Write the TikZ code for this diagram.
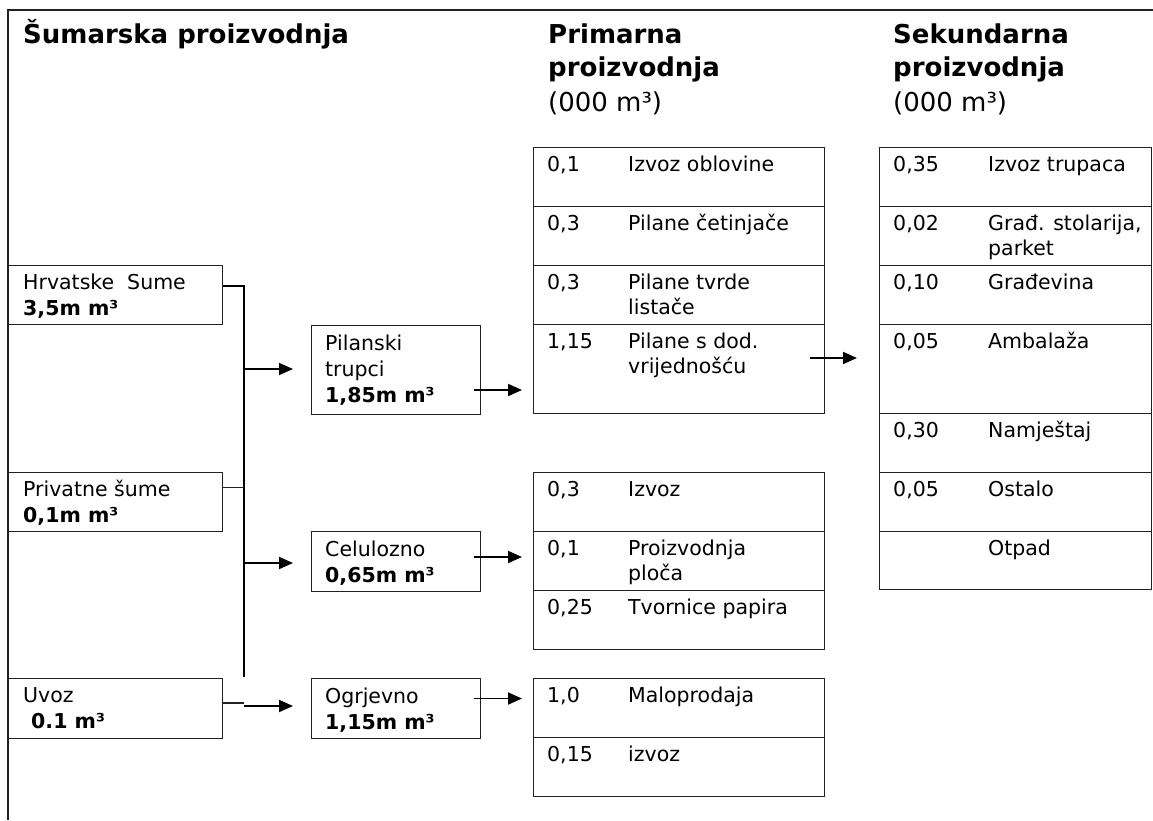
\documentclass[tikz,border=0pt]{standalone}
\usepackage{fontspec}
\setmainfont{DejaVu Sans}
\usetikzlibrary{arrows.meta}
\definecolor{linec}{HTML}{222222}
\newcommand{\rowtxt}[5]{% name, label shift, number, line1, line2
  \node[txt] (#1n) at ([xshift=14pt,yshift=-24pt]#1.north west) {#3};
  \node[txt] (#1t) at ([xshift=#2,yshift=-24pt]#1.north west) {#4};
  \node[txt] (#1u) at ([xshift=#2,yshift=-49pt]#1.north west) {#5};}
\begin{document}
\begin{tikzpicture}[x=1pt,y=-1pt,
  box/.style={draw=linec, line width=1.3pt, inner sep=0pt, anchor=north west},
  txt/.style={inner sep=0pt, anchor=base west, font=\fontsize{20.5}{25}\selectfont},
  txtb/.style={inner sep=0pt, anchor=base west, font=\fontsize{20.5}{25}\selectfont\bfseries},
  head/.style={inner sep=0pt, anchor=base west, font=\fontsize{26}{32}\selectfont\bfseries},
  headr/.style={inner sep=0pt, anchor=base west, font=\fontsize{26}{32}\selectfont},
  conn/.style={draw=black, line width=1.8pt},
  thinconn/.style={draw=linec, line width=1.2pt},
  arr/.style={conn, -{Triangle[length=14pt,width=12pt]}},
  frameline/.style={draw=linec, line width=1.3pt}
]
\useasboundingbox (0,0) rectangle (1153,820);

% outer frame
\coordinate (fbl) at (8,820);
\coordinate (ftl) at (8,10);
\coordinate (ftr) at (1153,10);
\draw[frameline] (fbl) -- (ftl) -- (ftr);

% headers
\node[head] (h1) at (23,43) {Šumarska proizvodnja};
\node[head] (h2a) at (548,43) {Primarna};
\node[head] (h2b) at (548,76) {proizvodnja};
\node[headr] (h2c) at (548,111) {(000 m³)};
\node[head] (h3a) at (893,43) {Sekundarna};
\node[head] (h3b) at (893,76) {proizvodnja};
\node[headr] (h3c) at (893,111) {(000 m³)};

% left boxes
\node[box, minimum width=214pt, minimum height=59pt] (hs) at (8,265) {};
\node[txt] (hst) at ([xshift=15pt,yshift=-24pt]hs.north west) {Hrvatske\ \ Sume};
\node[txtb] (hsv) at ([xshift=15pt,yshift=-50pt]hs.north west) {3,5m m³};

\node[box, minimum width=214pt, minimum height=59pt] (ps) at (8,472) {};
\node[txt] (pst) at ([xshift=15pt,yshift=-24pt]ps.north west) {Privatne šume};
\node[txtb] (psv) at ([xshift=15pt,yshift=-50pt]ps.north west) {0,1m m³};

\node[box, minimum width=214pt, minimum height=60pt] (uv) at (8,678) {};
\node[txt] (uvt) at ([xshift=15pt,yshift=-24pt]uv.north west) {Uvoz};
\node[txtb] (uvv) at ([xshift=23pt,yshift=-50pt]uv.north west) {0.1 m³};

% middle boxes
\node[box, minimum width=169pt, minimum height=89pt] (pt) at (311,325) {};
\node[txt] (ptt) at ([xshift=14pt,yshift=-25pt]pt.north west) {Pilanski};
\node[txt] (ptu) at ([xshift=14pt,yshift=-51pt]pt.north west) {trupci};
\node[txtb] (ptv) at ([xshift=14pt,yshift=-77pt]pt.north west) {1,85m m³};

\node[box, minimum width=169pt, minimum height=60pt] (cz) at (311,531) {};
\node[txt] (czt) at ([xshift=14pt,yshift=-25pt]cz.north west) {Celulozno};
\node[txtb] (czv) at ([xshift=14pt,yshift=-51pt]cz.north west) {0,65m m³};

\node[box, minimum width=169pt, minimum height=60pt] (og) at (311,678) {};
\node[txt] (ogt) at ([xshift=14pt,yshift=-25pt]og.north west) {Ogrjevno};
\node[txtb] (ogv) at ([xshift=14pt,yshift=-51pt]og.north west) {1,15m m³};

% primary table
\node[box, minimum width=291pt, minimum height=59pt] (p1) at (533,147) {};
\node[box, minimum width=291pt, minimum height=59pt] (p2) at (533,206) {};
\node[box, minimum width=291pt, minimum height=59pt] (p3) at (533,265) {};
\node[box, minimum width=291pt, minimum height=89pt] (p4) at (533,324) {};
\rowtxt{p1}{95pt}{0,1}{Izvoz oblovine}{}
\rowtxt{p2}{95pt}{0,3}{Pilane četinjače}{}
\rowtxt{p3}{95pt}{0,3}{Pilane tvrde}{listače}
\rowtxt{p4}{95pt}{1,15}{Pilane s dod.}{vrijednošću}

\node[box, minimum width=291pt, minimum height=59pt] (q1) at (533,472) {};
\node[box, minimum width=291pt, minimum height=59pt] (q2) at (533,531) {};
\node[box, minimum width=291pt, minimum height=59pt] (q3) at (533,590) {};
\rowtxt{q1}{95pt}{0,3}{Izvoz}{}
\rowtxt{q2}{95pt}{0,1}{Proizvodnja}{ploča}
\rowtxt{q3}{95pt}{0,25}{Tvornice papira}{}

\node[box, minimum width=291pt, minimum height=59pt] (r1) at (533,678) {};
\node[box, minimum width=291pt, minimum height=59pt] (r2) at (533,737) {};
\rowtxt{r1}{95pt}{1,0}{Maloprodaja}{}
\rowtxt{r2}{95pt}{0,15}{izvoz}{}

% secondary table
\node[box, minimum width=272pt, minimum height=59pt] (s1) at (879,147) {};
\node[box, minimum width=272pt, minimum height=59pt] (s2) at (879,206) {};
\node[box, minimum width=272pt, minimum height=59pt] (s3) at (879,265) {};
\node[box, minimum width=272pt, minimum height=89pt] (s4) at (879,324) {};
\node[box, minimum width=272pt, minimum height=59pt] (s5) at (879,413) {};
\node[box, minimum width=272pt, minimum height=59pt] (s6) at (879,472) {};
\node[box, minimum width=272pt, minimum height=58pt] (s7) at (879,531) {};
\rowtxt{s1}{109pt}{0,35}{Izvoz trupaca}{}
\rowtxt{s2}{109pt}{0,02}{Građ. stolarija,}{parket}
\rowtxt{s3}{109pt}{0,10}{Građevina}{}
\rowtxt{s4}{109pt}{0,05}{Ambalaža}{}
\rowtxt{s5}{109pt}{0,30}{Namještaj}{}
\rowtxt{s6}{109pt}{0,05}{Ostalo}{}
\rowtxt{s7}{109pt}{}{Otpad}{}

% connectors from sources
\coordinate (j1) at (244,286);
\coordinate (j2) at (244,487.5);
\coordinate (jend) at (244,677);
\coordinate (j3) at (244,703);
\draw[conn] (hs.east |- j1) -- (j1) -- (jend);
\draw[thinconn] (ps.east |- j2) -- (j2);
\draw[thinconn] (uv.east |- j3) -- (j3);

\coordinate (ja) at (244,369);
\coordinate (jb) at (244,563);
\coordinate (jc) at (244,706);
\draw[arr, shorten >=18pt] (ja) -- (pt.west |- ja);
\draw[arr, shorten >=18pt] (jb) -- (cz.west |- jb);
\draw[arr, shorten >=18pt] (jc) -- (og.west |- jc);

% connectors to primary
\coordinate (ma) at (473.5,390);
\coordinate (mb) at (473.5,557);
\coordinate (mc) at (473.5,698.5);
\draw[arr, shorten >=11pt] (ma) -- (p4.west |- ma);
\draw[arr, shorten >=11pt] (mb) -- (q2.west |- mb);
\draw[arr, shorten >=11pt] (mc) -- (r1.west |- mc);

% primary to secondary
\coordinate (md) at (810,358);
\draw[arr, shorten >=22pt] (md) -- (s4.west |- md);
\end{tikzpicture}
\end{document}
